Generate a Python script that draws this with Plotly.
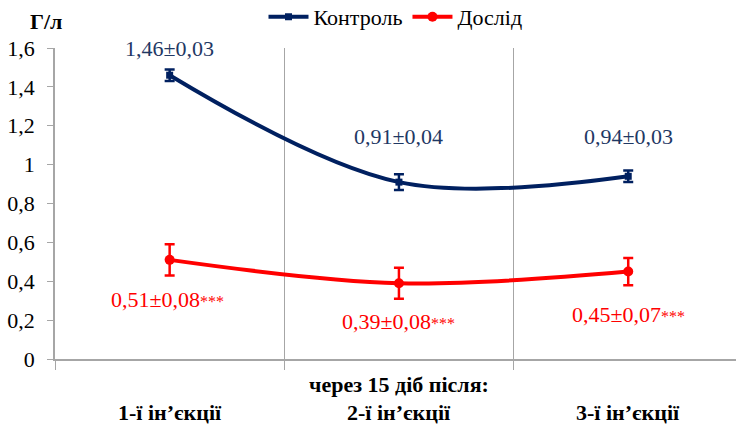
import plotly.graph_objects as go

# Categories and measurements (g/l), mean ± error
categories = ["1-ї ін’єкції", "2-ї ін’єкції", "3-ї ін’єкції"]
control_mean = [1.46, 0.91, 0.94]
control_err = [0.03, 0.04, 0.03]
test_mean = [0.51, 0.39, 0.45]
test_err = [0.08, 0.08, 0.07]
y_ticks = [0, 0.2, 0.4, 0.6, 0.8, 1.0, 1.2, 1.4, 1.6]

NAVY = "#002060"
NAVY_TXT = "#1F3864"
RED = "#FF0000"
FONT = "Liberation Serif"


def fmt(v):
    return f"{v:.2f}".replace(".", ",")


fig = go.Figure()

fig.add_trace(go.Scatter(
    x=categories, y=control_mean, name="Контроль",
    mode="lines+markers",
    line=dict(color=NAVY, width=4, shape="spline", smoothing=1),
    marker=dict(symbol="square", size=7, color=NAVY),
    error_y=dict(type="data", array=control_err, color=NAVY, thickness=2.5, width=5),
))
fig.add_trace(go.Scatter(
    x=categories, y=test_mean, name="Дослід",
    mode="lines+markers",
    line=dict(color=RED, width=4, shape="spline", smoothing=1),
    marker=dict(symbol="circle", size=10, color=RED),
    error_y=dict(type="data", array=test_err, color=RED, thickness=2.5, width=5),
))

# Value labels
ctrl_shift = [27, 46, 40]
for c, m, e, s in zip(categories, control_mean, control_err, ctrl_shift):
    fig.add_annotation(x=c, y=m, text=f"{fmt(m)}±{fmt(e)}", showarrow=False,
                       yshift=s, font=dict(family=FONT, size=22, color=NAVY_TXT))
test_shift = [-40, -38, -43]
test_xshift = [-2, 0, 0]
for c, m, e, s, xs in zip(categories, test_mean, test_err, test_shift, test_xshift):
    fig.add_annotation(x=c, y=m,
                       text=f"{fmt(m)}±{fmt(e)}<span style='font-size:16px'>***</span>",
                       showarrow=False, yshift=s, xshift=xs,
                       font=dict(family=FONT, size=22, color=RED))

# Category labels and the shared caption above them
for c in categories:
    fig.add_annotation(x=c, xref="x", y=-0.173, yref="paper", yanchor="middle",
                       text=f"<b>{c}</b>", showarrow=False,
                       font=dict(family=FONT, size=22, color="#000000"))
fig.add_annotation(x=categories[1], xref="x", y=-0.083, yref="paper", yanchor="middle",
                   text="<b>через 15 діб після:</b>", showarrow=False,
                   font=dict(family=FONT, size=22, color="#000000"))

# Unit label
fig.add_annotation(xref="paper", yref="paper", x=-0.04, y=1.085, yanchor="middle",
                   text="<b>Г/л</b>", showarrow=False,
                   font=dict(family=FONT, size=22, color="#000000"))

fig.update_layout(
    width=736, height=424,
    margin=dict(l=55, r=0, t=48, b=65, autoexpand=False),
    paper_bgcolor="white", plot_bgcolor="white",
    separators=", ",
    font=dict(family=FONT, size=22, color="#000000"),
    showlegend=True,
    legend=dict(orientation="h", x=0.50, xanchor="center", y=1.10, yanchor="middle",
                font=dict(family=FONT, size=22, color="#000000"),
                itemwidth=40, tracegroupgap=0, bgcolor="rgba(0,0,0,0)"),
    xaxis=dict(
        type="category", categoryorder="array", categoryarray=categories,
        range=[-0.5, 2.47], showticklabels=False,
        tickson="boundaries", showgrid=True, gridcolor="#A6A6A6", gridwidth=1,
        ticks="outside", ticklen=9, tickcolor="#A6A6A6",
        showline=True, linecolor="#A6A6A6", linewidth=1.5, zeroline=False,
    ),
    yaxis=dict(
        range=[0, 1.6], tickvals=y_ticks, showgrid=False, zeroline=False,
        ticks="outside", ticklen=6, tickcolor="#A6A6A6",
        showline=True, linecolor="#A6A6A6", linewidth=1.5,
        ticklabelstandoff=8,
        tickfont=dict(family=FONT, size=22, color="#000000"),
    ),
)

fig.write_html("out.html")
